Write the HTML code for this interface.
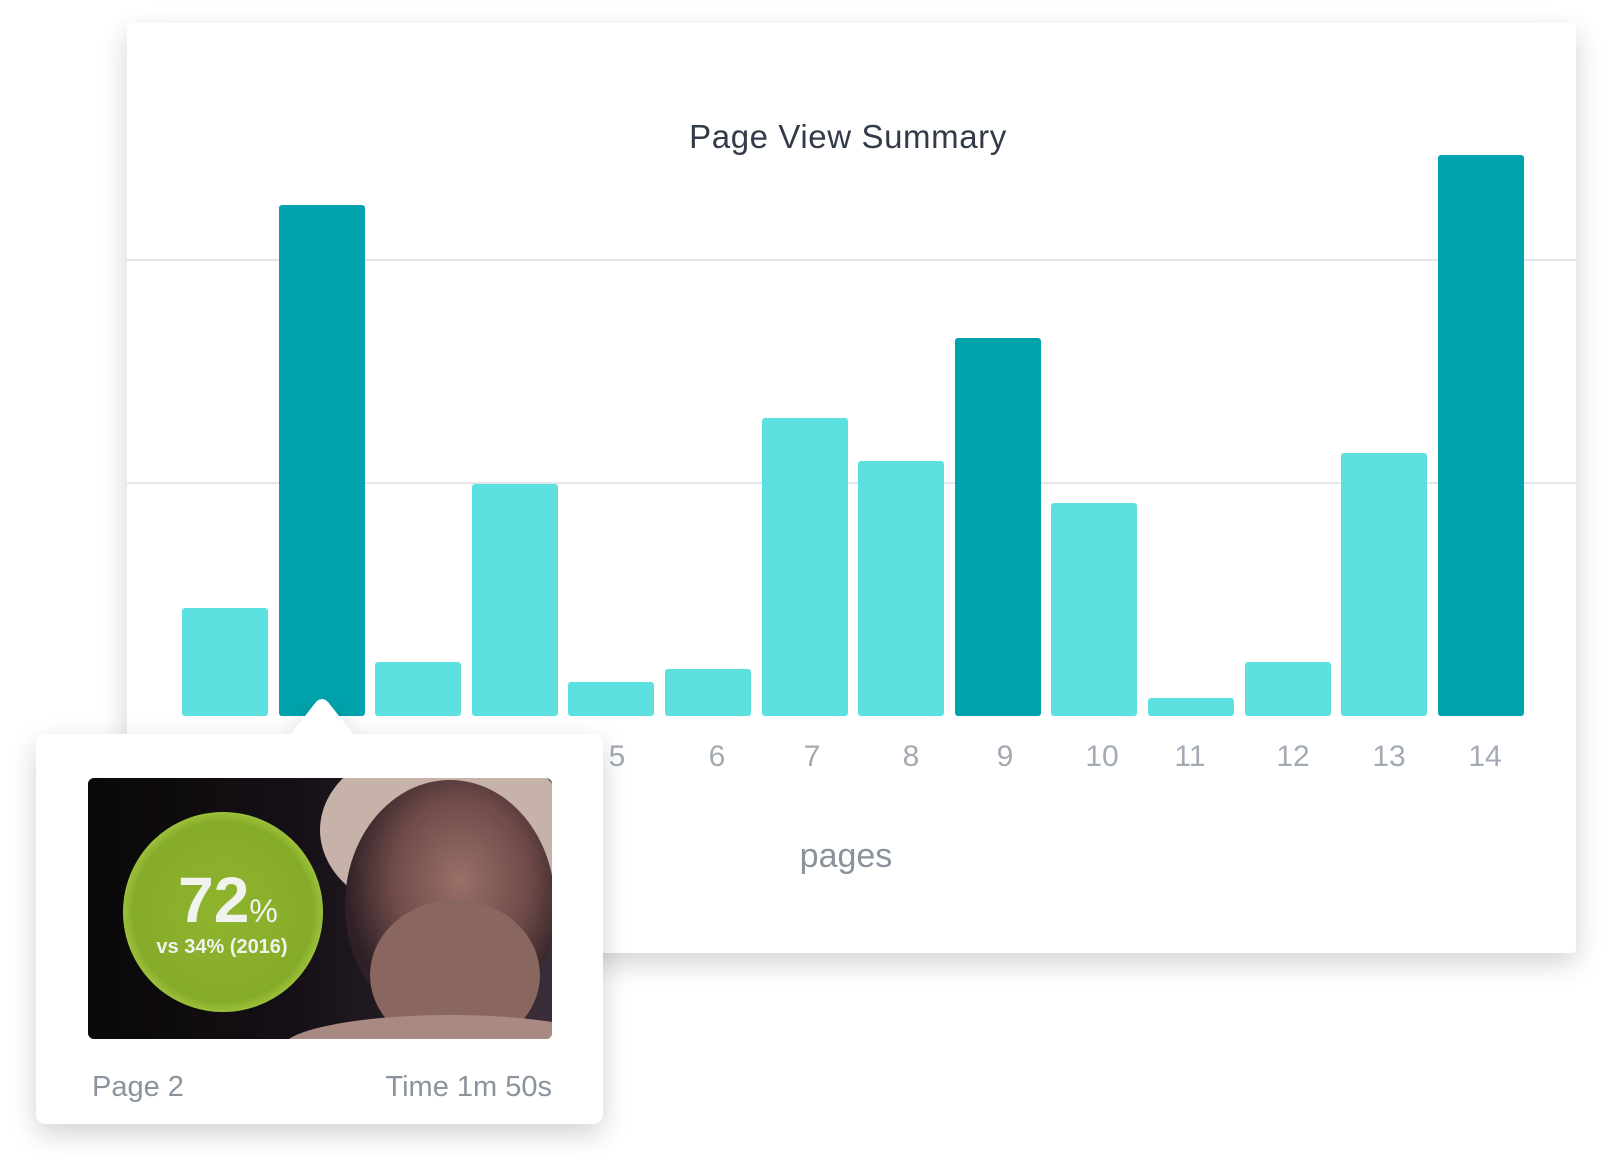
<!DOCTYPE html>
<html><head><meta charset="utf-8"><style>
html,body{margin:0;padding:0;background:#fff;width:1612px;height:1172px;overflow:hidden}
</style></head><body>
<svg width="1612" height="1172" viewBox="0 0 1612 1172" xmlns="http://www.w3.org/2000/svg" style="position:absolute;left:0;top:0">
<defs>
<filter id="sh" x="-10%" y="-10%" width="120%" height="125%">
<feGaussianBlur in="SourceAlpha" stdDeviation="14"/><feOffset dy="10"/>
<feComponentTransfer><feFuncA type="linear" slope="0.18"/></feComponentTransfer>
<feMerge><feMergeNode/><feMergeNode in="SourceGraphic"/></feMerge></filter>
<radialGradient id="face" cx="0.55" cy="0.4" r="0.55">
<stop offset="0" stop-color="#9a7068"/><stop offset="0.6" stop-color="#6e4a48"/><stop offset="1" stop-color="#2e2026"/></radialGradient>
<linearGradient id="bg" x1="0" x2="1"><stop offset="0" stop-color="#0a0808"/><stop offset="0.45" stop-color="#151016"/><stop offset="1" stop-color="#3a2e38"/></linearGradient>
<radialGradient id="grn" cx="0.5" cy="0.5" r="0.5"><stop offset="0" stop-color="#8fb52e"/><stop offset="0.9" stop-color="#85ab2a"/><stop offset="1" stop-color="#9cc23a"/></radialGradient>
<clipPath id="imgc"><rect x="88" y="778" width="464" height="261" rx="6"/></clipPath>
</defs>
<rect x="127" y="23" width="1449" height="930" rx="4" fill="#fff" filter="url(#sh)"/>
<line x1="127" y1="260" x2="1576" y2="260" stroke="#e4e6ea" stroke-width="2"/>
<line x1="127" y1="483" x2="1576" y2="483" stroke="#e4e6ea" stroke-width="2"/>
<text x="848" y="148" text-anchor="middle" font-family="Liberation Sans, sans-serif" font-size="33" letter-spacing="0.6" fill="#333b4a">Page View Summary</text>
<g>
<rect x="182" y="608" width="86" height="108" rx="3" fill="#5ce0e0"/>
<rect x="279" y="205" width="86" height="511" rx="3" fill="#00a3ad"/>
<rect x="375" y="662" width="86" height="54" rx="3" fill="#5ce0e0"/>
<rect x="472" y="484" width="86" height="232" rx="3" fill="#5ce0e0"/>
<rect x="568" y="682" width="86" height="34" rx="3" fill="#5ce0e0"/>
<rect x="665" y="669" width="86" height="47" rx="3" fill="#5ce0e0"/>
<rect x="762" y="418" width="86" height="298" rx="3" fill="#5ce0e0"/>
<rect x="858" y="461" width="86" height="255" rx="3" fill="#5ce0e0"/>
<rect x="955" y="338" width="86" height="378" rx="3" fill="#00a3ad"/>
<rect x="1051" y="503" width="86" height="213" rx="3" fill="#5ce0e0"/>
<rect x="1148" y="698" width="86" height="18" rx="3" fill="#5ce0e0"/>
<rect x="1245" y="662" width="86" height="54" rx="3" fill="#5ce0e0"/>
<rect x="1341" y="453" width="86" height="263" rx="3" fill="#5ce0e0"/>
<rect x="1438" y="155" width="86" height="561" rx="3" fill="#00a3ad"/>
</g>
<g font-family="Liberation Sans, sans-serif" font-size="30" fill="#a3aab3" text-anchor="middle">
<text x="617" y="766">5</text><text x="717" y="766">6</text><text x="812" y="766">7</text>
<text x="911" y="766">8</text><text x="1005" y="766">9</text><text x="1102" y="766">10</text>
<text x="1190" y="766">11</text><text x="1293" y="766">12</text><text x="1389" y="766">13</text>
<text x="1485" y="766">14</text>
</g>
<text x="846" y="867" text-anchor="middle" font-family="Liberation Sans, sans-serif" font-size="34" fill="#8a929c">pages</text>
<g filter="url(#sh)">
<rect x="36" y="734" width="567" height="390" rx="10" fill="#fff"/>
<path d="M290 735 L316 702 Q322 696 328 702 L354 735 Z" fill="#fff"/>
</g>
<g clip-path="url(#imgc)">
<rect x="88" y="778" width="464" height="261" fill="url(#bg)"/>
<ellipse cx="445" cy="830" rx="125" ry="90" fill="#c7b2aa"/>
<ellipse cx="450" cy="905" rx="105" ry="125" fill="url(#face)"/>
<ellipse cx="455" cy="975" rx="85" ry="75" fill="#8a6660"/>
<ellipse cx="450" cy="1050" rx="170" ry="35" fill="#a88a82"/>
<circle cx="223" cy="912" r="100" fill="url(#grn)"/>
<text x="228" y="922" text-anchor="middle" font-family="Liberation Sans, sans-serif" font-weight="bold" font-size="64" fill="#f2f2ee">72<tspan font-size="32" font-weight="normal">%</tspan></text>
<text x="222" y="953" text-anchor="middle" font-family="Liberation Sans, sans-serif" font-weight="bold" font-size="20" fill="#f2f2ee">vs 34% (2016)</text>
</g>
<text x="92" y="1096" font-family="Liberation Sans, sans-serif" font-size="29" fill="#8a939e">Page 2</text>
<text x="552" y="1096" text-anchor="end" font-family="Liberation Sans, sans-serif" font-size="29" fill="#8a939e">Time 1m 50s</text>
</svg>
</body></html>
